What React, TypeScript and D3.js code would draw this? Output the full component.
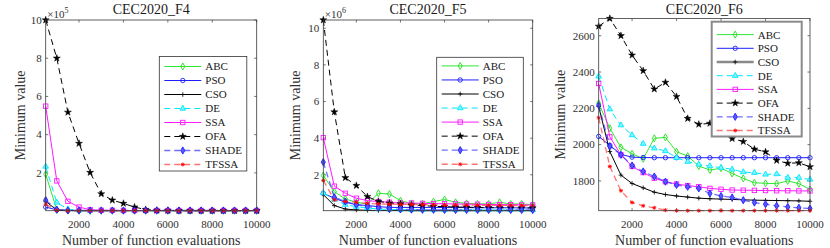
import React from 'react';
import * as d3 from 'd3';

const evaluations = [500, 1000, 1500, 2000, 2500, 3000, 3500, 4000, 4500, 5000, 5500, 6000, 6500, 7000, 7500, 8000, 8500, 9000, 9500, 10000];
const xTicks = [2000, 4000, 6000, 8000, 10000];
const algorithms = ['ABC', 'PSO', 'CSO', 'DE', 'SSA', 'OFA', 'SHADE', 'TFSSA'];

// CEC2020_F4 (x 1e5)
const f4ABC = [1.93, 0.06, 0.03, 0.02, 0.02, 0.02, 0.02, 0.02, 0.02, 0.02, 0.02, 0.02, 0.02, 0.02, 0.02, 0.02, 0.02, 0.02, 0.02, 0.02];
const f4PSO = [0.21, 0.06, 0.04, 0.03, 0.03, 0.03, 0.03, 0.03, 0.03, 0.03, 0.03, 0.03, 0.03, 0.03, 0.03, 0.03, 0.03, 0.03, 0.03, 0.03];
const f4CSO = [0.51, 0.05, 0.03, 0.02, 0.02, 0.02, 0.02, 0.02, 0.02, 0.02, 0.02, 0.02, 0.02, 0.02, 0.02, 0.02, 0.02, 0.02, 0.02, 0.02];
const f4DE = [2.33, 0.45, 0.1, 0.04, 0.03, 0.03, 0.03, 0.03, 0.03, 0.03, 0.03, 0.03, 0.03, 0.03, 0.03, 0.03, 0.03, 0.03, 0.03, 0.03];
const f4SSA = [5.49, 1.58, 0.51, 0.21, 0.07, 0.04, 0.04, 0.03, 0.03, 0.03, 0.03, 0.03, 0.03, 0.03, 0.03, 0.03, 0.03, 0.03, 0.03, 0.03];
const f4OFA = [10.0, 8.0, 5.17, 3.54, 2.02, 0.9, 0.57, 0.4, 0.21, 0.08, 0.04, 0.03, 0.02, 0.02, 0.02, 0.02, 0.02, 0.02, 0.02, 0.02];
const f4SHADE = [0.57, 0.08, 0.03, 0.03, 0.03, 0.03, 0.03, 0.03, 0.03, 0.03, 0.03, 0.03, 0.03, 0.03, 0.03, 0.03, 0.03, 0.03, 0.03, 0.03];
const f4TFSSA = [0.36, 0.04, 0.02, 0.02, 0.02, 0.02, 0.02, 0.02, 0.02, 0.02, 0.02, 0.02, 0.02, 0.02, 0.02, 0.02, 0.02, 0.02, 0.02, 0.02];
const f4Ticks = [2, 4, 6, 8, 10];

// CEC2020_F5 (x 1e6)
const f5ABC = [1.96, 1.08, 0.68, 0.5, 0.41, 0.99, 0.95, 0.59, 0.44, 0.41, 0.54, 0.65, 0.5, 0.44, 0.41, 0.41, 0.5, 0.41, 0.41, 0.37];
const f5PSO = [0.99, 0.72, 0.5, 0.37, 0.32, 0.26, 0.22, 0.22, 0.22, 0.22, 0.22, 0.21, 0.21, 0.21, 0.2, 0.2, 0.2, 0.2, 0.19, 0.19];
const f5CSO = [0.92, 0.32, 0.13, 0.08, 0.06, 0.05, 0.05, 0.05, 0.04, 0.04, 0.04, 0.04, 0.04, 0.04, 0.04, 0.04, 0.04, 0.04, 0.04, 0.04];
const f5DE = [1.0, 0.65, 0.37, 0.26, 0.19, 0.13, 0.11, 0.1, 0.09, 0.09, 0.08, 0.08, 0.08, 0.08, 0.08, 0.08, 0.08, 0.08, 0.08, 0.08];
const f5SSA = [4.03, 1.38, 0.99, 0.72, 0.59, 0.54, 0.5, 0.46, 0.46, 0.44, 0.43, 0.42, 0.41, 0.4, 0.39, 0.38, 0.37, 0.37, 0.36, 0.35];
const f5OFA = [10.45, 5.43, 1.84, 1.41, 0.81, 0.55, 0.46, 0.41, 0.35, 0.32, 0.28, 0.26, 0.24, 0.23, 0.22, 0.21, 0.2, 0.2, 0.19, 0.19];
const f5SHADE = [2.69, 0.77, 0.54, 0.37, 0.26, 0.19, 0.13, 0.11, 0.1, 0.09, 0.09, 0.08, 0.08, 0.08, 0.08, 0.08, 0.08, 0.08, 0.08, 0.08];
const f5TFSSA = [1.69, 0.63, 0.54, 0.5, 0.44, 0.41, 0.4, 0.39, 0.38, 0.37, 0.36, 0.35, 0.35, 0.34, 0.34, 0.33, 0.33, 0.33, 0.32, 0.32];
const f5Ticks = [2, 4, 6, 8, 10];

// CEC2020_F6
const f6ABC = [2228, 2090, 1985, 1950, 1922, 2035, 2040, 1961, 1937, 1882, 1860, 1870, 1841, 1814, 1790, 1787, 1785, 1800, 1785, 1753];
const f6PSO = [2045, 1996, 1946, 1931, 1929, 1928, 1928, 1928, 1928, 1928, 1928, 1928, 1928, 1928, 1928, 1928, 1928, 1928, 1928, 1928];
const f6CSO = [2210, 1962, 1832, 1786, 1762, 1738, 1725, 1717, 1711, 1705, 1702, 1700, 1698, 1696, 1694, 1693, 1692, 1691, 1690, 1688];
const f6DE = [2376, 2195, 2107, 2053, 2005, 1980, 1965, 1928, 1906, 1891, 1882, 1873, 1864, 1849, 1845, 1836, 1838, 1818, 1818, 1808];
const f6SSA = [2337, 2043, 1944, 1880, 1846, 1815, 1796, 1783, 1774, 1768, 1759, 1754, 1750, 1749, 1748, 1747, 1746, 1746, 1745, 1745];
const f6OFA = [2652, 2695, 2600, 2493, 2407, 2306, 2343, 2265, 2144, 2112, 2117, 2090, 2033, 2017, 1975, 1960, 1913, 1897, 1900, 1878];
const f6SHADE = [2217, 1991, 1944, 1885, 1852, 1824, 1796, 1778, 1768, 1759, 1731, 1717, 1709, 1694, 1681, 1672, 1663, 1657, 1652, 1648];
const f6TFSSA = [2148, 1880, 1746, 1681, 1663, 1652, 1639, 1636, 1636, 1636, 1636, 1636, 1636, 1636, 1636, 1636, 1636, 1636, 1636, 1636];
const f6Ticks = [1800, 2000, 2200, 2400, 2600];

type Style = { color: string; dash?: string; opacity?: number; marker: string; mcolor: string };
const styles: Record<string, Style> = {
  ABC: { color: '#2ee82e', marker: 'diamond', mcolor: '#22dd22' },
  PSO: { color: '#1f1fff', marker: 'circle', mcolor: '#1f1fff' },
  CSO: { color: '#000000', marker: 'plus', mcolor: '#000000' },
  DE: { color: '#00e6ff', dash: '6,4', marker: 'triangle', mcolor: '#00e6ff' },
  SSA: { color: '#ff1aff', marker: 'square', mcolor: '#ff1aff' },
  OFA: { color: '#000000', dash: '6,4', marker: 'star', mcolor: '#000000' },
  SHADE: { color: '#3d3dff', dash: '6,4', opacity: 0.75, marker: 'diamondFill', mcolor: '#1f1fff' },
  TFSSA: { color: '#ff3a3a', dash: '6,4', opacity: 0.7, marker: 'asterisk', mcolor: '#ff0000' },
};

const FONT = '"Liberation Serif", "Times New Roman", serif';
const TEXT = '#303030';

function Marker({ type, x, y, color }: { type: string; x: number; y: number; color: string }) {
  const t = `translate(${x},${y})`;
  switch (type) {
    case 'diamond':
      return <path transform={t} d={d3.symbol(d3.symbolDiamond, 14)()!} fill="none" stroke={color} strokeWidth={0.9} />;
    case 'diamondFill':
      return <path transform={t} d={d3.symbol(d3.symbolDiamond, 15)()!} fill="#5a5aff" stroke={color} strokeWidth={0.9} />;
    case 'circle':
      return <circle cx={x} cy={y} r={2.2} fill="none" stroke={color} strokeWidth={0.9} />;
    case 'plus':
      return <path transform={t} d="M-2.3,0H2.3M0,-2.3V2.3" stroke={color} strokeWidth={0.8} />;
    case 'triangle':
      return <path transform={t} d={d3.symbol(d3.symbolTriangle, 14)()!} fill="#7ff4ff" stroke={color} strokeWidth={0.9} />;
    case 'square':
      return <rect x={x - 2.2} y={y - 2.2} width={4.4} height={4.4} fill="none" stroke={color} strokeWidth={0.9} />;
    case 'star':
      return <path transform={t} d={d3.symbol(d3.symbolStar, 15)()!} fill={color} stroke={color} strokeWidth={0.5} />;
    case 'asterisk':
      return <path transform={t} d="M-2,0H2M0,-2V2M-1.5,-1.5L1.5,1.5M-1.5,1.5L1.5,-1.5" stroke={color} strokeWidth={0.9} />;
  }
  return null;
}

type PanelCfg = {
  title: string;
  series: number[][];
  yTicks: number[];
  exponent?: string;
  left: number; right: number; top: number; bottom: number;
  ylabelX: number;
  legend: { x: number; y: number; w: number; h: number; first: number; step: number; heavy?: boolean };
};

function Panel({ cfg }: { cfg: PanelCfg }) {
  const { left, right, top, bottom } = cfg;
  const x = d3.scaleLinear().domain([evaluations[0], evaluations[evaluations.length - 1]]).range([left, right]);
  const all = cfg.series.flat();
  const y = d3.scaleLinear().domain(d3.extent(all) as [number, number]).range([bottom, top]);
  const line = d3.line<number>().x((_, i) => x(evaluations[i])).y((d) => y(d));
  const axisColor = '#3a3a3a';
  const tl = 2.5;
  const lg = cfg.legend;
  return (
    <g fontFamily={FONT}>
      {xTicks.map((t) => (
        <g key={'xt' + t}>
          <line x1={x(t)} x2={x(t)} y1={bottom} y2={bottom - tl} stroke={axisColor} strokeWidth={0.7} />
          <line x1={x(t)} x2={x(t)} y1={top} y2={top + tl} stroke={axisColor} strokeWidth={0.7} />
          <text x={x(t)} y={228} fontSize={11} textAnchor="middle" fill={TEXT}>{t}</text>
        </g>
      ))}
      {cfg.yTicks.map((t) => (
        <g key={'yt' + t}>
          <line x1={left} x2={left + tl} y1={y(t)} y2={y(t)} stroke={axisColor} strokeWidth={0.7} />
          <line x1={right} x2={right - tl} y1={y(t)} y2={y(t)} stroke={axisColor} strokeWidth={0.7} />
          <text x={left - 4} y={y(t) + 3.8} fontSize={11} textAnchor="end" fill={TEXT}>{t}</text>
        </g>
      ))}
      {cfg.series.map((s, i) => {
        const st = styles[algorithms[i]];
        return (
          <g key={'s' + i}>
            <path d={line(s)!} fill="none" stroke={st.color} strokeWidth={st.opacity ? 1.3 : 1} strokeDasharray={st.dash} strokeOpacity={st.opacity ?? 1} />
            {s.map((v, j) => (
              <Marker key={j} type={st.marker} x={x(evaluations[j])} y={y(v)} color={st.mcolor} />
            ))}
          </g>
        );
      })}
      <rect x={left} y={top} width={right - left} height={bottom - top} fill="none" stroke={axisColor} strokeWidth={0.8} />
      <text x={(left + right) / 2} y={13.5} fontSize={14} textAnchor="middle" fill="#1a1a1a">{cfg.title}</text>
      <text x={(left + right) / 2} y={245} fontSize={14} textAnchor="middle" fill={TEXT}>Number of function evaluations</text>
      <text transform={`translate(${cfg.ylabelX},${(top + bottom) / 2}) rotate(-90)`} fontSize={14} textAnchor="middle" fill={TEXT}>Minimum value</text>
      {cfg.exponent && (
        <text x={left + 1.5} y={18} fontSize={11} fill={TEXT}>
          ×10<tspan fontSize={8} dy={-5.5}>{cfg.exponent}</tspan>
        </text>
      )}
      <rect x={lg.x} y={lg.y} width={lg.w} height={lg.h} fill="#fff" stroke={lg.heavy ? '#8a8a8a' : '#333'} strokeWidth={lg.heavy ? 2 : 0.8} />
      {algorithms.map((a, i) => {
        const st = styles[a];
        const cy = lg.y + lg.first + i * lg.step;
        const x1 = lg.x + 5;
        const x2 = lg.x + 42;
        const heavyCSO = lg.heavy && a === 'CSO';
        return (
          <g key={'lg' + a}>
            <line x1={x1} x2={x2} y1={cy} y2={cy} stroke={heavyCSO ? '#8a8a8a' : st.color} strokeWidth={heavyCSO ? 2.5 : st.opacity ? 1.3 : 1} strokeDasharray={st.dash} strokeOpacity={st.opacity ?? 1} />
            <Marker type={st.marker} x={(x1 + x2) / 2} y={cy} color={st.mcolor} />
            <text x={lg.x + 46} y={cy + 3.9} fontSize={11} fill="#1a1a1a">{a}</text>
          </g>
        );
      })}
    </g>
  );
}

const panels: PanelCfg[] = [
  {
    title: 'CEC2020_F4',
    series: [f4ABC, f4PSO, f4CSO, f4DE, f4SSA, f4OFA, f4SHADE, f4TFSSA],
    yTicks: f4Ticks, exponent: '5',
    left: 45.7, right: 256.7, top: 20, bottom: 210.7, ylabelX: 25,
    legend: { x: 159.3, y: 56.5, w: 87.5, h: 114.5, first: 10, step: 14 },
  },
  {
    title: 'CEC2020_F5',
    series: [f5ABC, f5PSO, f5CSO, f5DE, f5SSA, f5OFA, f5SHADE, f5TFSSA],
    yTicks: f5Ticks, exponent: '6',
    left: 323.3, right: 532.7, top: 20, bottom: 210.7, ylabelX: 300,
    legend: { x: 436.7, y: 57.3, w: 86.6, h: 112.7, first: 8.6, step: 14.05 },
  },
  {
    title: 'CEC2020_F6',
    series: [f6ABC, f6PSO, f6CSO, f6DE, f6SSA, f6OFA, f6SHADE, f6TFSSA],
    yTicks: f6Ticks,
    left: 598.7, right: 810, top: 18.5, bottom: 210.7, ylabelX: 565,
    legend: { x: 711.7, y: 21.7, w: 90, h: 114.8, first: 12.9, step: 13.7, heavy: true },
  },
];

export default function App() {
  return (
    <svg width={830} height={248} style={{ position: 'absolute', left: 0, top: 0, background: '#fff' }}>
      <rect x={0} y={0} width={830} height={248} fill="#fff" />
      {panels.map((p) => (
        <Panel key={p.title} cfg={p} />
      ))}
    </svg>
  );
}
